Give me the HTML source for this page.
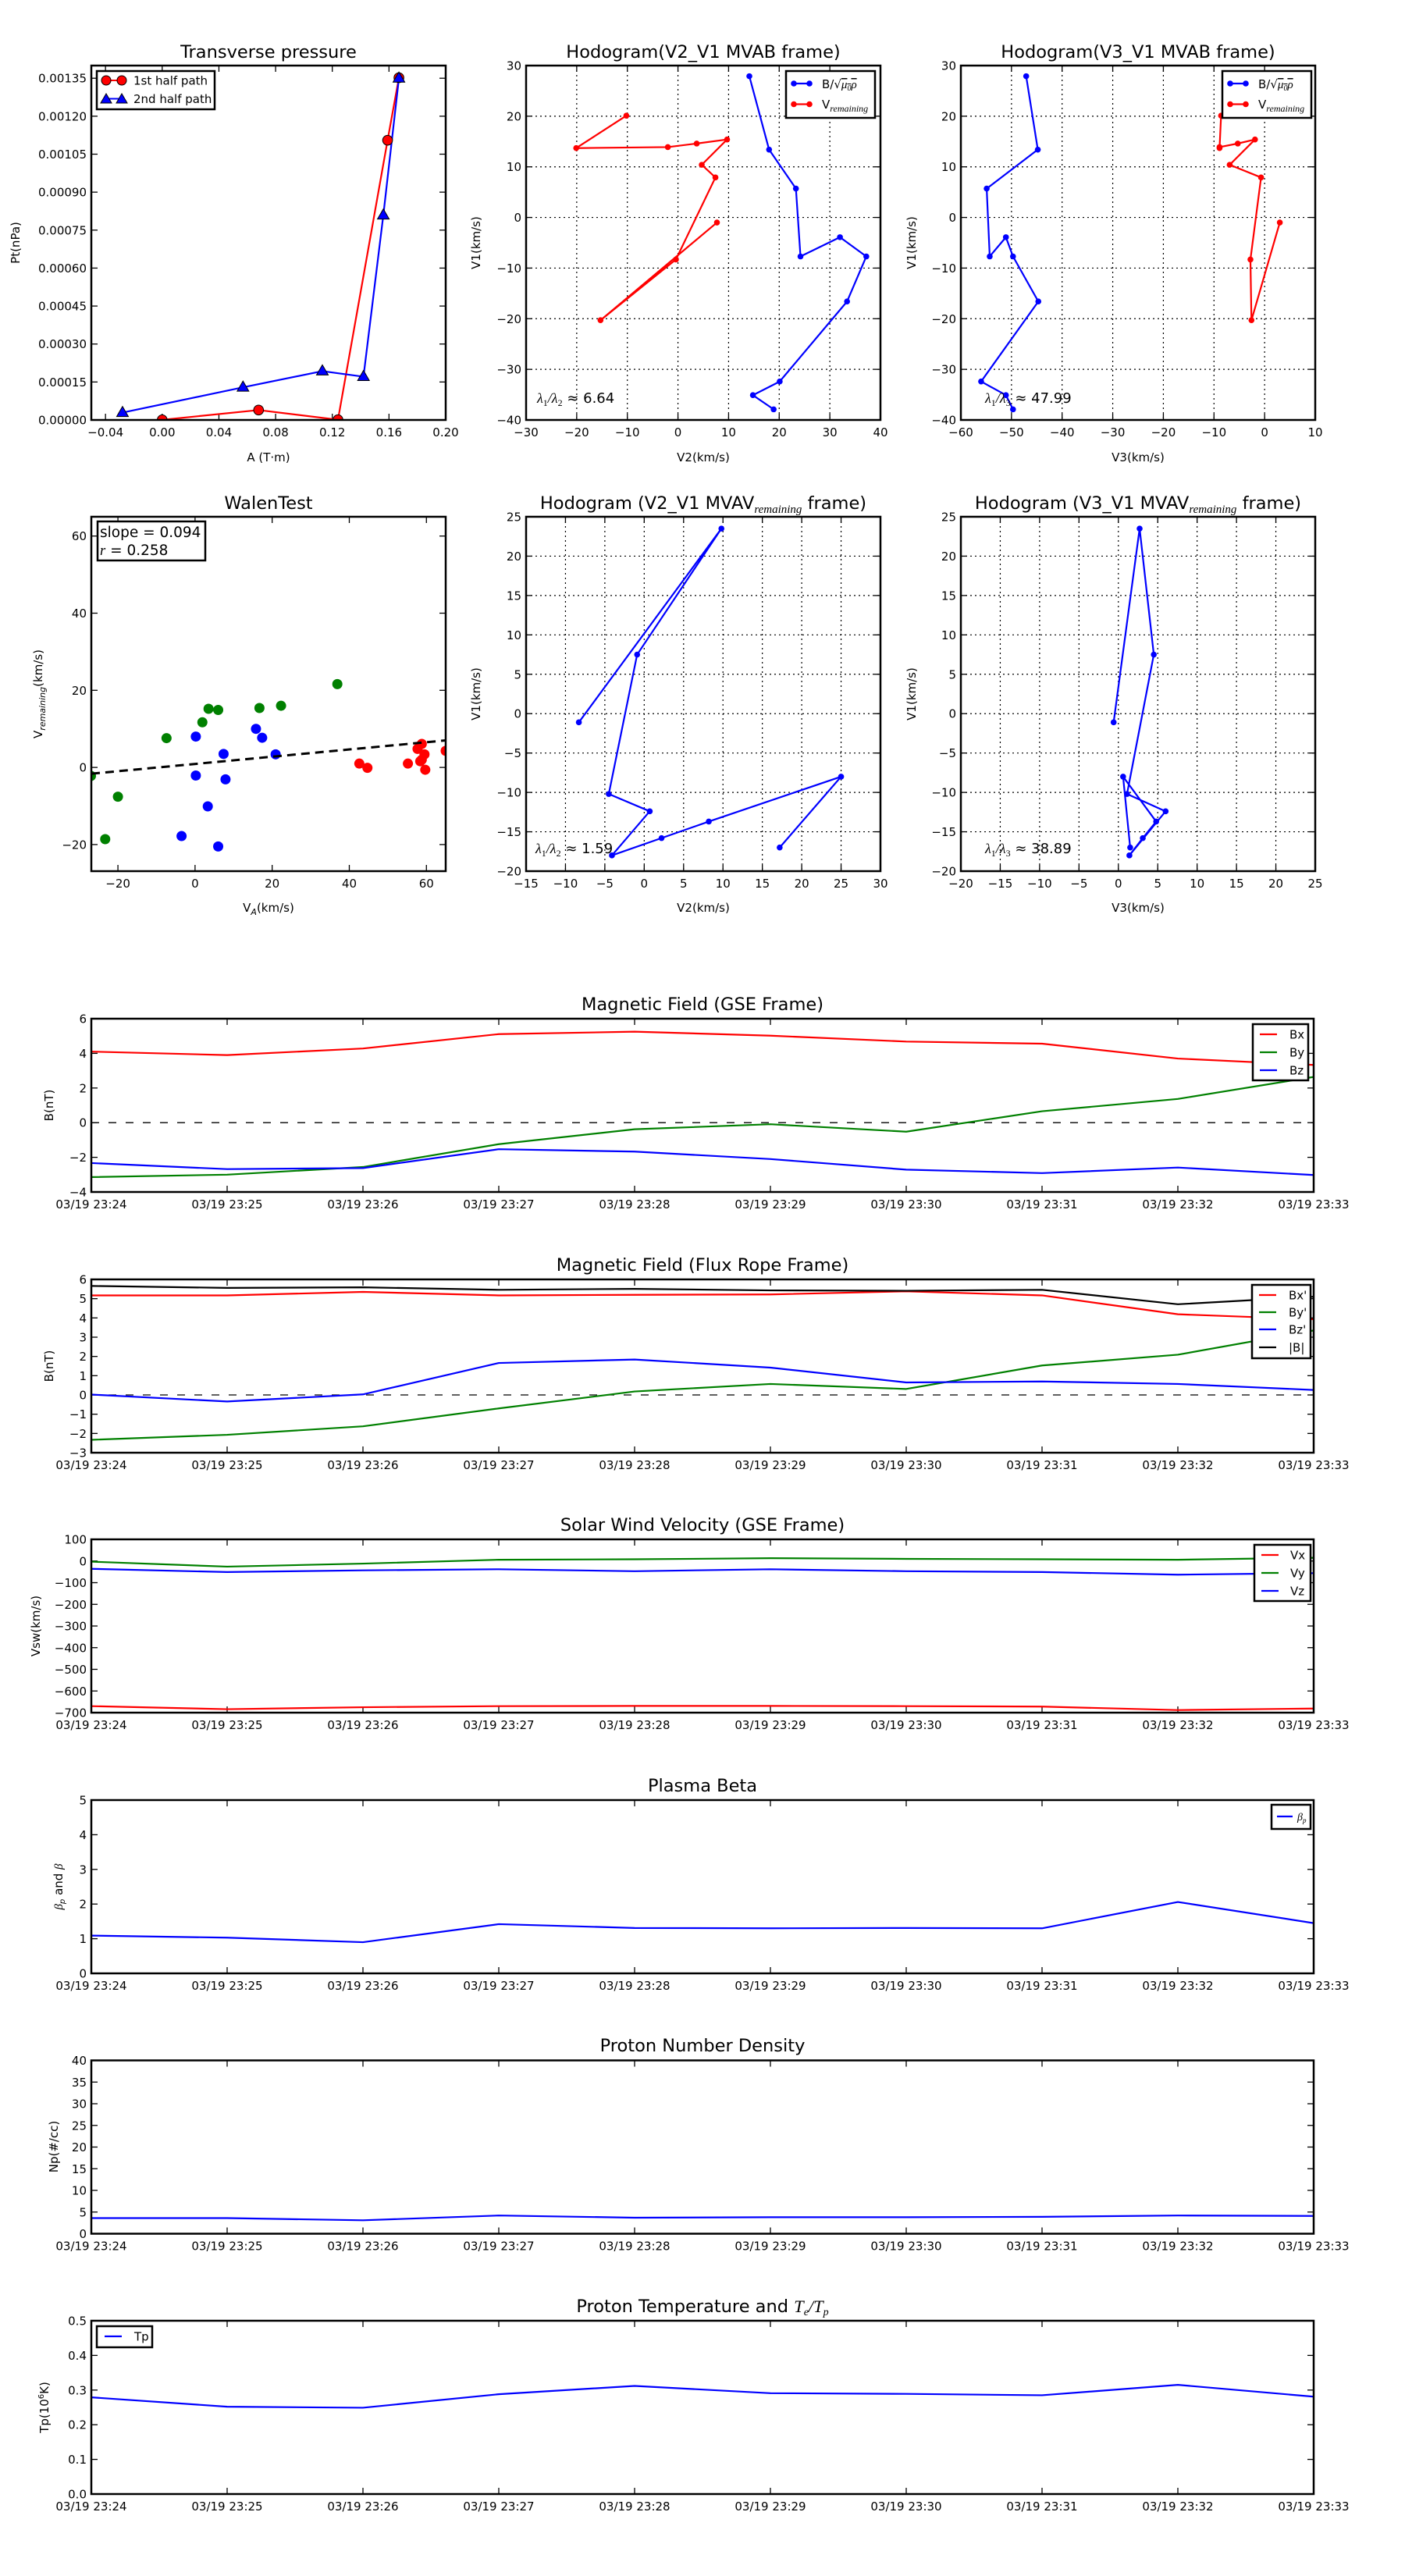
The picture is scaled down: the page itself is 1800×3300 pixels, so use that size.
<!DOCTYPE html>
<html><head><meta charset="utf-8"><title>Flux rope analysis</title>
<style>
html,body{margin:0;padding:0;background:#fff;}
svg{display:block;font-family:"DejaVu Sans","Liberation Sans",sans-serif;}
text{fill:#000;}
</style></head>
<body>
<svg id="fig" xmlns="http://www.w3.org/2000/svg" width="1800" height="3300" viewBox="0 0 1800 3300">
<rect x="0" y="0" width="1800" height="3300" fill="#fff"/>
<!-- titles -->
<g font-size="22.5" text-anchor="middle">
<text x="344" y="74">Transverse pressure</text>
<text x="901" y="74">Hodogram(V2_V1 MVAB frame)</text>
<text x="1458" y="74">Hodogram(V3_V1 MVAB frame)</text>
<text x="344" y="652">WalenTest</text>
<text x="901" y="652">Hodogram (V2_V1 MVAV<tspan font-family="Liberation Serif" font-style="italic" font-size="15" baseline-shift="-5">remaining</tspan> frame)</text>
<text x="1458" y="652">Hodogram (V3_V1 MVAV<tspan font-family="Liberation Serif" font-style="italic" font-size="15" baseline-shift="-5">remaining</tspan> frame)</text>
<text x="900" y="1294">Magnetic Field (GSE Frame)</text>
<text x="900" y="1628">Magnetic Field (Flux Rope Frame)</text>
<text x="900" y="1961">Solar Wind Velocity (GSE Frame)</text>
<text x="900" y="2295">Plasma Beta</text>
<text x="900" y="2628">Proton Number Density</text>
<text x="900" y="2962">Proton Temperature and <tspan font-family="Liberation Serif" font-style="italic">T</tspan><tspan font-family="Liberation Serif" font-style="italic" font-size="14" baseline-shift="-4">e</tspan><tspan font-family="Liberation Serif" font-style="italic">/T</tspan><tspan font-family="Liberation Serif" font-style="italic" font-size="14" baseline-shift="-4">p</tspan></text>
</g>
<!-- axis labels -->
<g font-size="15" text-anchor="middle">
<text x="344" y="591">A (T·m)</text>
<text x="901" y="591">V2(km/s)</text>
<text x="1458" y="591">V3(km/s)</text>
<text x="344" y="1168">V<tspan font-size="11" baseline-shift="-4" font-style="italic">A</tspan>(km/s)</text>
<text x="901" y="1168">V2(km/s)</text>
<text x="1458" y="1168">V3(km/s)</text>
<text transform="translate(25,311) rotate(-90)">Pt(nPa)</text>
<text transform="translate(615,311) rotate(-90)">V1(km/s)</text>
<text transform="translate(1173,311) rotate(-90)">V1(km/s)</text>
<text transform="translate(54,889) rotate(-90)">V<tspan font-size="11" baseline-shift="-4" font-style="italic">remaining</tspan>(km/s)</text>
<text transform="translate(615,889) rotate(-90)">V1(km/s)</text>
<text transform="translate(1173,889) rotate(-90)">V1(km/s)</text>
<text transform="translate(68,1416) rotate(-90)">B(nT)</text>
<text transform="translate(68,1750) rotate(-90)">B(nT)</text>
<text transform="translate(51,2083) rotate(-90)">Vsw(km/s)</text>
<text transform="translate(80,2417) rotate(-90)"><tspan font-family="Liberation Serif" font-style="italic">β</tspan><tspan font-size="10" baseline-shift="-3" font-style="italic">p</tspan> and <tspan font-family="Liberation Serif" font-style="italic">β</tspan></text>
<text transform="translate(74,2750) rotate(-90)">Np(#/cc)</text>
<text transform="translate(62,3084) rotate(-90)">Tp(10<tspan font-size="10" baseline-shift="6">6</tspan>K)</text>
</g>
</svg>
<script>
// ---------- data ----------
const ptX1 = [0.000, 0.068, 0.124, 0.159, 0.167];
const ptY1 = [0.0000005, 0.0000392, 0.000001, 0.001105, 0.001352];
const ptX2 = [-0.028, 0.057, 0.113, 0.142, 0.156, 0.167];
const ptY2 = [0.000029, 0.000129, 0.000193, 0.000171, 0.000809, 0.001350];
const ptXTicks = [-0.04, 0, 0.04, 0.08, 0.12, 0.16, 0.20];
const ptXTickLabels = ['−0.04','0.00','0.04','0.08','0.12','0.16','0.20'];
const ptYTicks = [0,0.00015,0.0003,0.00045,0.0006,0.00075,0.0009,0.00105,0.0012,0.00135];
const ptYTickLabels = ['0.00000','0.00015','0.00030','0.00045','0.00060','0.00075','0.00090','0.00105','0.00120','0.00135'];

const mvabBV1 = [27.9, 13.4, 5.7, -7.7, -3.9, -7.7, -16.6, -32.4, -35.1, -37.9];
const mvabBV2 = [14.1, 18.0, 23.3, 24.2, 32.0, 37.2, 33.4, 20.1, 14.8, 18.9];
const mvabBV3 = [-47.1, -44.8, -54.9, -54.3, -51.1, -49.7, -44.7, -56.0, -51.1, -49.7];
const mvabVV1 = [20.1, 13.7, 13.9, 14.6, 15.4, 10.4, 7.9, -8.3, -20.3, -1.0];
const mvabVV2 = [-10.2, -20.1, -2.0, 3.7, 9.7, 4.7, 7.4, -0.4, -15.3, 7.7];
const mvabVV3 = [-8.6, -8.9, -8.9, -5.3, -1.9, -6.9, -0.7, -2.8, -2.6, 3.0];

const mvavV1 = [-1.1, 23.5, 7.5, -10.2, -12.4, -18.0, -15.8, -13.7, -8.0, -17.0];
const mvavV2 = [-8.3, 9.8, -0.9, -4.5, 0.7, -4.1, 2.2, 8.2, 25.0, 17.2];
const mvavV3 = [-0.6, 2.7, 4.5, 1.1, 6.0, 1.4, 3.1, 4.8, 0.6, 1.5];

const walenGreenX = [-27.0, -23.3, -20.0, -7.4, 1.9, 3.5, 6.0, 16.7, 22.3, 36.9];
const walenGreenY = [-2.2, -18.6, -7.6, 7.6, 11.7, 15.2, 14.9, 15.4, 16.0, 21.6];
const walenBlueX = [0.2, 7.4, 0.2, 7.9, 3.3, -3.5, 6.0, 15.8, 17.4, 20.9];
const walenBlueY = [8.0, 3.5, -2.1, -3.1, -10.1, -17.8, -20.5, 10.0, 7.7, 3.4];
const walenRedX = [42.6, 44.7, 55.2, 57.7, 58.8, 59.5, 58.4, 58.8, 59.7, 65.0];
const walenRedY = [1.0, -0.1, 1.0, 4.8, 6.1, 3.4, 1.6, 2.0, -0.6, 4.3];
const walenSlope = [0.094];
const walenIntercept = [0.9];
const walenTicks = [-20, 0, 20, 40, 60];
const walenTickLabels = ['−20','0','20','40','60'];

const tsMinutes = [0,1,2,3,4,5,6,7,8,9];
const tsTickLabels = ['03/19 23:24','03/19 23:25','03/19 23:26','03/19 23:27','03/19 23:28','03/19 23:29','03/19 23:30','03/19 23:31','03/19 23:32','03/19 23:33'];
const bxGSE = [4.10, 3.90, 4.28, 5.11, 5.25, 5.02, 4.68, 4.56, 3.70, 3.33];
const byGSE = [-3.14, -3.00, -2.56, -1.24, -0.38, -0.09, -0.52, 0.66, 1.37, 2.64];
const bzGSE = [-2.33, -2.68, -2.62, -1.53, -1.67, -2.10, -2.71, -2.91, -2.59, -3.02];
const bxFR = [5.17, 5.17, 5.35, 5.17, 5.20, 5.22, 5.38, 5.17, 4.19, 3.93];
const byFR = [-2.33, -2.07, -1.63, -0.70, 0.18, 0.57, 0.31, 1.53, 2.09, 3.35];
const bzFR = [0.02, -0.34, 0.03, 1.66, 1.84, 1.42, 0.65, 0.70, 0.57, 0.26];
const bmagFR = [5.66, 5.56, 5.59, 5.46, 5.51, 5.43, 5.41, 5.46, 4.71, 5.10];
const vxSW = [-670, -684, -675, -670, -669, -669, -670, -672, -688, -681];
const vySW = [-3, -26, -12, 6, 8, 13, 10, 8, 6, 15];
const vzSW = [-36, -51, -43, -38, -47, -38, -47, -51, -63, -56];
const betaP = [1.09, 1.03, 0.90, 1.42, 1.31, 1.30, 1.31, 1.30, 2.06, 1.45];
const npDens = [3.6, 3.6, 3.1, 4.2, 3.7, 3.8, 3.8, 3.9, 4.2, 4.1];
const tpTemp = [0.279, 0.252, 0.249, 0.288, 0.312, 0.291, 0.289, 0.285, 0.315, 0.281];

// ---------- helpers ----------
const NS = 'http://www.w3.org/2000/svg';
const svg = document.getElementById('fig');
function mk(tag, attrs, parent) {
  const e = document.createElementNS(NS, tag);
  for (const k in attrs) e.setAttribute(k, attrs[k]);
  (parent || svg).appendChild(e);
  return e;
}
function scale(d0, d1, r0, r1) { return v => r0 + (v - d0) / (d1 - d0) * (r1 - r0); }
function range(a, b, s) { const r = []; for (let v = a; v <= b + 1e-9; v += s) r.push(Math.round(v * 1000) / 1000); return r; }
function lbl(v) { return (v < 0 ? '−' : '') + Math.abs(v); }

function axes(name, L, T, W, H, xd, yd, xt, xtl, yt, ytl, grid) {
  const g = mk('g', {});
  
  
  const sx = scale(xd[0], xd[1], L, L + W), sy = scale(yd[0], yd[1], T + H, T);
  const cp = mk('clipPath', { id: name + '-clip' }, g);
  mk('rect', { x: L, y: T, width: W, height: H }, cp);
  const gr = mk('g', {}, g);
  
  
  xt.forEach((v, i) => {
    const x = sx(v);
    if (x < L - 0.5 || x > L + W + 0.5) return;
    if (grid) {
      const gl = mk('line', { x1: x, x2: x, y1: T, y2: T + H, stroke: '#000', 'stroke-width': 1.2, 'stroke-dasharray': '2,4' }, gr);
      
      
    }
    const tb = mk('line', { x1: x, x2: x, y1: T + H, y2: T + H - 8, stroke: '#000', 'stroke-width': 1.3 }, gr);
    
    
    const tt = mk('line', { x1: x, x2: x, y1: T, y2: T + 8, stroke: '#000', 'stroke-width': 1.3 }, gr);
    
    
    const tl = mk('text', { x: x, y: T + H + 21, 'text-anchor': 'middle', 'font-size': 15 }, gr);
    tl.textContent = xtl[i];
    
    
  });
  yt.forEach((v, i) => {
    const y = sy(v);
    if (grid) {
      const gl = mk('line', { x1: L, x2: L + W, y1: y, y2: y, stroke: '#000', 'stroke-width': 1.2, 'stroke-dasharray': '2,4' }, gr);
      
      
    }
    const tl1 = mk('line', { x1: L, x2: L + 8, y1: y, y2: y, stroke: '#000', 'stroke-width': 1.3 }, gr);
    
    
    const tr = mk('line', { x1: L + W - 8, x2: L + W, y1: y, y2: y, stroke: '#000', 'stroke-width': 1.3 }, gr);
    
    
    const lab = mk('text', { x: L - 6, y: y + 5.5, 'text-anchor': 'end', 'font-size': 15 }, gr);
    lab.textContent = ytl[i];
    
    
  });
  const plot = mk('g', { 'clip-path': 'url(#' + name + '-clip)' }, g);
  
  
  return { sx, sy, plot, g, L, T, W, H };
}
function frame(ax) {
  const f = mk('rect', { x: ax.L, y: ax.T, width: ax.W, height: ax.H, fill: 'none', stroke: '#000', 'stroke-width': 2.5 }, ax.g);
  
  
}
function line(ax, xs, ys, color, width, name) {
  const pts = xs.map((x, i) => ax.sx(x).toFixed(2) + ',' + ax.sy(ys[i]).toFixed(2)).join(' ');
  const p = mk('polyline', { points: pts, fill: 'none', stroke: color, 'stroke-width': width, 'stroke-linejoin': 'round' }, ax.plot);
  
  
  return p;
}
function dots(ax, xs, ys, color, r, name, edge) {
  xs.forEach((x, i) => {
    const c = mk('circle', { cx: ax.sx(x), cy: ax.sy(ys[i]), r: r, fill: color, stroke: edge || 'none', 'stroke-width': 1 }, ax.plot);
    
    
  });
}
function tris(ax, xs, ys, color, name) {
  xs.forEach((x, i) => {
    const cx = ax.sx(x), cy = ax.sy(ys[i]);
    const t = mk('polygon', { points: `${cx},${cy - 8} ${cx - 7.5},${cy + 5} ${cx + 7.5},${cy + 5}`, fill: color, stroke: '#000', 'stroke-width': 1 }, ax.plot);
    
    
  });
}
function zeroLine(ax, dash) {
  const z = mk('line', { x1: ax.L, x2: ax.L + ax.W, y1: ax.sy(0), y2: ax.sy(0), stroke: '#000', 'stroke-width': 1.3, 'stroke-dasharray': dash || '10,12' }, ax.plot);
  
  
}
function legendBox(x, y, w, h, name) {
  const g = mk('g', {});
  
  
  const r = mk('rect', { x: x, y: y, width: w, height: h, fill: '#fff', stroke: '#000', 'stroke-width': 2.5 }, g);
  
  
  return g;
}
function legendLine(g, x1, x2, y, color, label, tx, name) {
  const l = mk('line', { x1: x1, x2: x2, y1: y, y2: y, stroke: color, 'stroke-width': 2.2 }, g);
  
  
  const t = mk('text', { x: tx, y: y + 5.5, 'font-size': 15 }, g);
  t.textContent = label;
  
  
  return t;
}

// ---------- Panel 1: transverse pressure ----------
const ax1 = axes('transverse-pressure-chart', 117, 84, 454, 454, [-0.05, 0.2], [0, 0.0014], ptXTicks, ptXTickLabels, ptYTicks, ptYTickLabels, false);
line(ax1, ptX1, ptY1, '#ff0000', 2.2, 'first-half-path-line');
line(ax1, ptX2, ptY2, '#0000ff', 2.2, 'second-half-path-line');
dots(ax1, ptX1, ptY1, '#ff0000', 6.3, 'first-half-point', '#000');
tris(ax1, ptX2, ptY2, '#0000ff', 'second-half-point');
frame(ax1);
{
  const lg = legendBox(124, 91, 151, 49, 'pressure-legend');
  const l1 = mk('line', { x1: 136, x2: 156, y1: 103, y2: 103, stroke: '#ff0000', 'stroke-width': 2 }, lg);
  
  
  [136, 156].forEach(cx => {
    const c = mk('circle', { cx: cx, cy: 103, r: 6, fill: '#ff0000', stroke: '#000', 'stroke-width': 1 }, lg);
    
    
  });
  const l2 = mk('line', { x1: 136, x2: 156, y1: 126.5, y2: 126.5, stroke: '#0000ff', 'stroke-width': 2 }, lg);
  
  
  [136, 156].forEach(cx => {
    const t = mk('polygon', { points: `${cx},${120} ${cx - 7},${132} ${cx + 7},${132}`, fill: '#0000ff', stroke: '#000', 'stroke-width': 1 }, lg);
    
    
  });
  const t1 = mk('text', { x: 171, y: 108.5, 'font-size': 15 }, lg);
  t1.textContent = '1st half path';
  
  
  const t2 = mk('text', { x: 171, y: 132, 'font-size': 15 }, lg);
  t2.textContent = '2nd half path';
  
  
}

// ---------- hodogram helper ----------
function hodoLegend(x, y, name, twoEntries) {
  const lg = legendBox(x, y, 114, 60, name);
  const rows = [[y + 16, '#0000ff', 'b'], [y + 42.5, '#ff0000', 'v']];
  rows.forEach(r => {
    const l = mk('line', { x1: x + 10, x2: x + 30, y1: r[0], y2: r[0], stroke: r[1], 'stroke-width': 2.2 }, lg);
    
    
    [x + 10, x + 30].forEach(cx => {
      const c = mk('circle', { cx: cx, cy: r[0], r: 3.8, fill: r[1] }, lg);
      
      
    });
  });
  const t1 = mk('text', { x: x + 46, y: y + 22, 'font-size': 15 }, lg);
  t1.innerHTML = 'B/√<tspan font-family="Liberation Serif" font-style="italic" text-decoration="overline">μ<tspan font-size="10" baseline-shift="-3">0</tspan>ρ</tspan>';
  
  
  const t2 = mk('text', { x: x + 46, y: y + 48, 'font-size': 15 }, lg);
  t2.innerHTML = 'V<tspan font-family="Liberation Serif" font-style="italic" font-size="12" baseline-shift="-4">remaining</tspan>';
  
  
}
function ratioText(x, y, sub, value, name) {
  const t = mk('text', { x: x, y: y, 'font-size': 18 });
  t.innerHTML = '<tspan font-family="Liberation Serif" font-style="italic">λ</tspan><tspan font-family="Liberation Serif" font-size="12" baseline-shift="-4">1</tspan><tspan font-family="Liberation Serif" font-style="italic">/λ</tspan><tspan font-family="Liberation Serif" font-size="12" baseline-shift="-4">' + sub + '</tspan> ≈ ' + value;
  
  
}

// ---------- Panel 2: hodogram V2-V1 MVAB ----------
const ax2 = axes('hodogram-v2-v1-mvab-chart', 674, 84, 454, 454, [-30, 40], [-40, 30], range(-30, 40, 10), range(-30, 40, 10).map(lbl), range(-40, 30, 10), range(-40, 30, 10).map(lbl), true);
line(ax2, mvabBV2, mvabBV1, '#0000ff', 2.2, 'b-field-hodogram-line');
dots(ax2, mvabBV2, mvabBV1, '#0000ff', 3.8, 'b-field-point');
line(ax2, mvabVV2, mvabVV1, '#ff0000', 2.2, 'v-remaining-hodogram-line');
dots(ax2, mvabVV2, mvabVV1, '#ff0000', 3.8, 'v-remaining-point');
frame(ax2);
hodoLegend(1007, 91, 'hodogram-v2-legend');
ratioText(688, 516, '2', '6.64', 'eigenvalue-ratio-label');

// ---------- Panel 3: hodogram V3-V1 MVAB ----------
const ax3 = axes('hodogram-v3-v1-mvab-chart', 1231, 84, 454, 454, [-60, 10], [-40, 30], range(-60, 10, 10), range(-60, 10, 10).map(lbl), range(-40, 30, 10), range(-40, 30, 10).map(lbl), true);
line(ax3, mvabBV3, mvabBV1, '#0000ff', 2.2, 'b-field-hodogram-line');
dots(ax3, mvabBV3, mvabBV1, '#0000ff', 3.8, 'b-field-point');
line(ax3, mvabVV3, mvabVV1, '#ff0000', 2.2, 'v-remaining-hodogram-line');
dots(ax3, mvabVV3, mvabVV1, '#ff0000', 3.8, 'v-remaining-point');
frame(ax3);
hodoLegend(1566, 91, 'hodogram-v3-legend');
ratioText(1262, 516, '3', '47.99', 'eigenvalue-ratio-label');

// ---------- Panel 4: Walen test ----------
const ax4 = axes('walen-test-chart', 117, 662, 454, 454, [-26.9, 65], [-26.9, 65], walenTicks, walenTickLabels, walenTicks, walenTickLabels, false);
dots(ax4, walenGreenX, walenGreenY, '#008000', 6.5, 'walen-green-point');
dots(ax4, walenBlueX, walenBlueY, '#0000ff', 6.5, 'walen-blue-point');
dots(ax4, walenRedX, walenRedY, '#ff0000', 6.5, 'walen-red-point');
{
  const fx = [-26.9, 65];
  const fy = fx.map(x => walenSlope[0] * x + walenIntercept[0]);
  const fl = line(ax4, fx, fy, '#000', 3, 'walen-fit-line');
  fl.setAttribute('stroke-dasharray', '11,7');
}
frame(ax4);
{
  const lg = legendBox(125, 668, 138, 50, 'walen-stats-box');
  const t1 = mk('text', { x: 128, y: 688, 'font-size': 18.5 }, lg);
  t1.textContent = 'slope = 0.094';
  
  
  const t2 = mk('text', { x: 128, y: 711, 'font-size': 18.5 }, lg);
  t2.innerHTML = '<tspan font-family="Liberation Serif" font-style="italic">r</tspan> = 0.258';
  
  
}

// ---------- Panel 5: hodogram V2-V1 MVAV ----------
const ax5 = axes('hodogram-v2-v1-mvav-chart', 674, 662, 454, 454, [-15, 30], [-20, 25], range(-15, 30, 5), range(-15, 30, 5).map(lbl), range(-20, 25, 5), range(-20, 25, 5).map(lbl), true);
line(ax5, mvavV2, mvavV1, '#0000ff', 2.2, 'v-remaining-hodogram-line');
dots(ax5, mvavV2, mvavV1, '#0000ff', 3.8, 'v-remaining-point');
frame(ax5);
ratioText(686, 1093, '2', '1.59', 'eigenvalue-ratio-label');

// ---------- Panel 6: hodogram V3-V1 MVAV ----------
const ax6 = axes('hodogram-v3-v1-mvav-chart', 1231, 662, 454, 454, [-20, 25], [-20, 25], range(-20, 25, 5), range(-20, 25, 5).map(lbl), range(-20, 25, 5), range(-20, 25, 5).map(lbl), true);
line(ax6, mvavV3, mvavV1, '#0000ff', 2.2, 'v-remaining-hodogram-line');
dots(ax6, mvavV3, mvavV1, '#0000ff', 3.8, 'v-remaining-point');
frame(ax6);
ratioText(1262, 1093, '3', '38.89', 'eigenvalue-ratio-label');

// ---------- Time series ----------
const TL = 117, TW = 1566, TH = 222;
function ts(name, top, yd, yticks, ylabels) {
  return axes(name, TL, top, TW, TH, [0, 9], yd, tsMinutes, tsTickLabels, yticks, ylabels, false);
}
// GSE B
const a7 = ts('magnetic-field-gse-chart', 1305, [-4, 6], range(-4, 6, 2), range(-4, 6, 2).map(lbl));
zeroLine(a7);
line(a7, tsMinutes, bxGSE, '#ff0000', 2.2, 'bx-line');
line(a7, tsMinutes, byGSE, '#008000', 2.2, 'by-line');
line(a7, tsMinutes, bzGSE, '#0000ff', 2.2, 'bz-line');
frame(a7);
{
  const lg = legendBox(1605, 1312, 71, 72, 'magnetic-field-gse-legend');
  legendLine(lg, 1614, 1636, 1325, '#ff0000', 'Bx', 1652, 'legend-bx');
  legendLine(lg, 1614, 1636, 1348, '#008000', 'By', 1652, 'legend-by');
  legendLine(lg, 1614, 1636, 1371, '#0000ff', 'Bz', 1652, 'legend-bz');
}
// Flux rope B
const a8 = ts('magnetic-field-flux-rope-chart', 1639, [-3, 6], range(-3, 6, 1), range(-3, 6, 1).map(lbl));
zeroLine(a8);
line(a8, tsMinutes, bxFR, '#ff0000', 2.2, 'bx-prime-line');
line(a8, tsMinutes, byFR, '#008000', 2.2, 'by-prime-line');
line(a8, tsMinutes, bzFR, '#0000ff', 2.2, 'bz-prime-line');
line(a8, tsMinutes, bmagFR, '#000000', 2.2, 'b-magnitude-line');
frame(a8);
{
  const lg = legendBox(1604, 1646, 75, 94, 'magnetic-field-flux-rope-legend');
  legendLine(lg, 1613, 1635, 1659, '#ff0000', "Bx'", 1651, 'legend-bx-prime');
  legendLine(lg, 1613, 1635, 1681, '#008000', "By'", 1651, 'legend-by-prime');
  legendLine(lg, 1613, 1635, 1703, '#0000ff', "Bz'", 1651, 'legend-bz-prime');
  legendLine(lg, 1613, 1635, 1726, '#000000', '|B|', 1651, 'legend-b-magnitude');
}
// Solar wind
const a9 = ts('solar-wind-velocity-chart', 1972, [-700, 100], range(-700, 100, 100), range(-700, 100, 100).map(lbl));
line(a9, tsMinutes, vxSW, '#ff0000', 2.2, 'vx-line');
line(a9, tsMinutes, vySW, '#008000', 2.2, 'vy-line');
line(a9, tsMinutes, vzSW, '#0000ff', 2.2, 'vz-line');
frame(a9);
{
  const lg = legendBox(1607, 1979, 72, 72, 'solar-wind-velocity-legend');
  legendLine(lg, 1616, 1638, 1992, '#ff0000', 'Vx', 1653, 'legend-vx');
  legendLine(lg, 1616, 1638, 2015, '#008000', 'Vy', 1653, 'legend-vy');
  legendLine(lg, 1616, 1638, 2038, '#0000ff', 'Vz', 1653, 'legend-vz');
}
// Beta
const a10 = ts('plasma-beta-chart', 2306, [0, 5], range(0, 5, 1), range(0, 5, 1).map(lbl));
line(a10, tsMinutes, betaP, '#0000ff', 2.2, 'beta-p-line');
frame(a10);
{
  const lg = legendBox(1629, 2312, 50, 31, 'plasma-beta-legend');
  const l = mk('line', { x1: 1636, x2: 1656, y1: 2327, y2: 2327, stroke: '#0000ff', 'stroke-width': 2.2 }, lg);
  
  
  const t = mk('text', { x: 1662, y: 2332, 'font-size': 14, 'font-family': 'Liberation Serif', 'font-style': 'italic' }, lg);
  t.innerHTML = 'β<tspan font-size="9" baseline-shift="-3">p</tspan>';
  
  
}
// Density
const a11 = ts('proton-density-chart', 2639.5, [0, 40], range(0, 40, 5), range(0, 40, 5).map(lbl));
line(a11, tsMinutes, npDens, '#0000ff', 2.2, 'np-line');
frame(a11);
// Temperature
const a12 = ts('proton-temperature-chart', 2973, [0, 0.5], range(0, 0.5, 0.1), range(0, 0.5, 0.1).map(v => v.toFixed(1)));
line(a12, tsMinutes, tpTemp, '#0000ff', 2.2, 'tp-line');
frame(a12);
{
  const lg = legendBox(124, 2980, 71, 27, 'proton-temperature-legend');
  legendLine(lg, 134, 156, 2993, '#0000ff', 'Tp', 172, 'legend-tp');
}
</script>
</body></html>
